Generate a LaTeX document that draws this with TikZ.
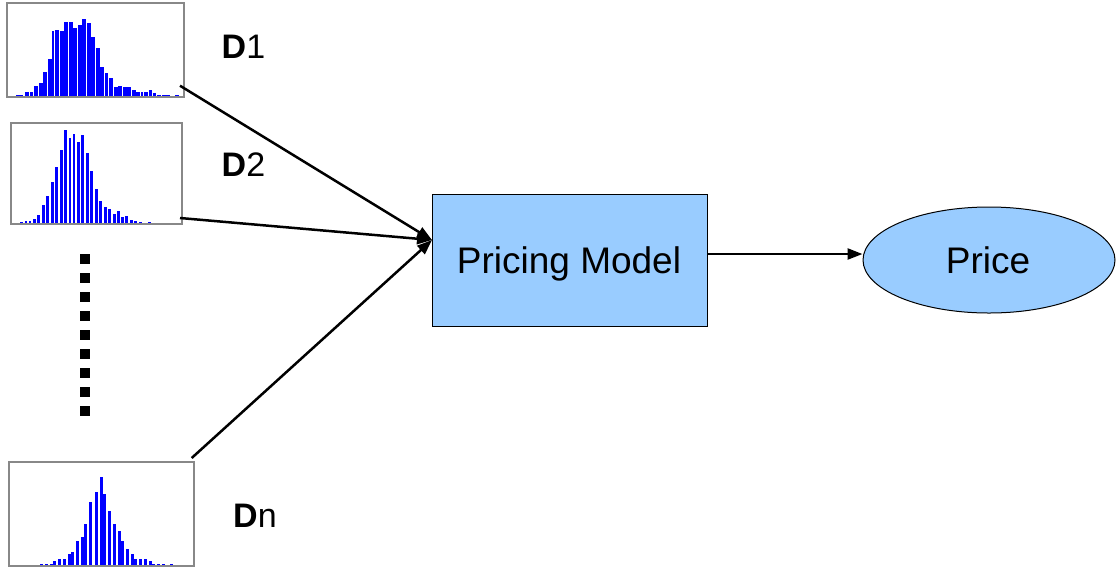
\documentclass[tikz,border=0pt]{standalone}
\usepackage{fontspec}
\setmainfont{Liberation Sans}
\usetikzlibrary{arrows.meta,shapes.geometric}
\definecolor{barblue}{RGB}{0,0,255}
\definecolor{boxgray}{RGB}{136,136,136}
\definecolor{lblue}{RGB}{153,204,255}
\tikzset{
  histbox/.style={draw=boxgray, line width=1.3pt, minimum width=#1, inner sep=0pt},
  conn/.style={line width=2.5pt, -{Triangle[length=15pt,width=11pt]}},
  lbl/.style={anchor=base west, inner sep=0pt, font=\fontsize{34}{41}\selectfont},
  bigtext/.style={font=\fontsize{37}{44}\selectfont},
  txt/.style={anchor=base, inner sep=0pt, font=\fontsize{37}{44}\selectfont}
}
\begin{document}
\begin{tikzpicture}[x=1pt,y=-1pt]
\useasboundingbox (0,0) rectangle (1118,574);
% histogram 1 bars
\foreach \l/\r/\t in {48/70/285,75/87/276,90/100/276,102/113/258,117/128/248,130/141/215,144/155/177,156/163/93,165/177/90,181/192/93,193/204/66,207/218/66,219/231/84,234/245/75,246/257/57,261/272/69,273/284/111,288/299/144,301/311/201,314/323/219,327/338/234,342/353/261,354/365/258,369/380/261,382/392/261,396/407/270,408/419/276,422/430/276,432/443/276,447/456/270,459/469/279,472/483/285,486/510/285,525/536/285}
  \fill[barblue] ({\l/3},96.7) rectangle ({\r/3},{\t/3});
% histogram 2 bars
\foreach \l/\t in {48/315,60/312,74/309,86/309,99/303,111/291,126/261,138/234,153/192,165/147,180/96,192/36,206/60,218/48,231/72,243/51,258/105,270/159,285/213,297/249,312/267,324/273,339/288,351/279,363/297,375/294,390/306,402/309,417/312,429/315,444/312,456/315,471/315,483/315,495/315,507/315}
  \fill[barblue] ({\l/3},223.7) rectangle ({(\l+8)/3},{118+\t/3});
% histogram 3 bars
\foreach \l/\t in {120/327,135/327,149/327,159/318,174/312,189/312,204/297,213/291,228/258,243/246,252/207,267/141,285/111,300/66,309/117,324/168,339/207,354/228,363/258,378/282,393/297,402/312,417/312,432/312,447/318,456/327,471/327,486/327,510/327}
  \fill[barblue] ({\l/3},566) rectangle ({(\l+9)/3},{455+\t/3});
% histogram frames
\node[histbox=177pt, minimum height=94pt] (h1) at (95.5,50) {};
\node[histbox=171pt, minimum height=101pt] (h2) at (96.5,173.5) {};
\node[histbox=185pt, minimum height=104pt] (h3) at (101.5,514) {};
% labels
\node[lbl] (l1) at (221.5,58.3) {\textbf{D}1};
\node[lbl] (l2) at (221.5,176.7) {\textbf{D}2};
\node[lbl] (ln) at (233,527) {\textbf{D}n};
% vertical dots
\foreach \y in {258.7,277.7,296.7,316,335,354,372.7,391.7,410.7}
  \fill (80,{\y-5}) rectangle (90,{\y+5});
% pricing model
\node[draw=black, line width=1pt, fill=lblue, minimum width=275pt, minimum height=132pt, inner sep=0pt] (pm) at (569.5,260) {};
\node[txt] (pmt) at (569,273.5) {Pricing Model};
\node[draw=black, line width=1pt, fill=lblue, ellipse, minimum width=252pt, minimum height=106pt, inner sep=0pt] (pr) at (989,260) {};
\node[txt] (prt) at (988,273.5) {Price};
% connectors
\coordinate (s1) at (180,85.7);
\coordinate (s2) at (180,218);
\coordinate (sn) at (191.7,458);
\coordinate (tin) at (432,240);
\draw[conn] (s1) -- (tin);
\draw[conn] (s2) -- (tin);
\draw[conn] (sn) -- (tin);
\draw[conn] ([yshift=6pt]pm.east) -- ([yshift=6pt]pr.west);
\end{tikzpicture}
\end{document}
